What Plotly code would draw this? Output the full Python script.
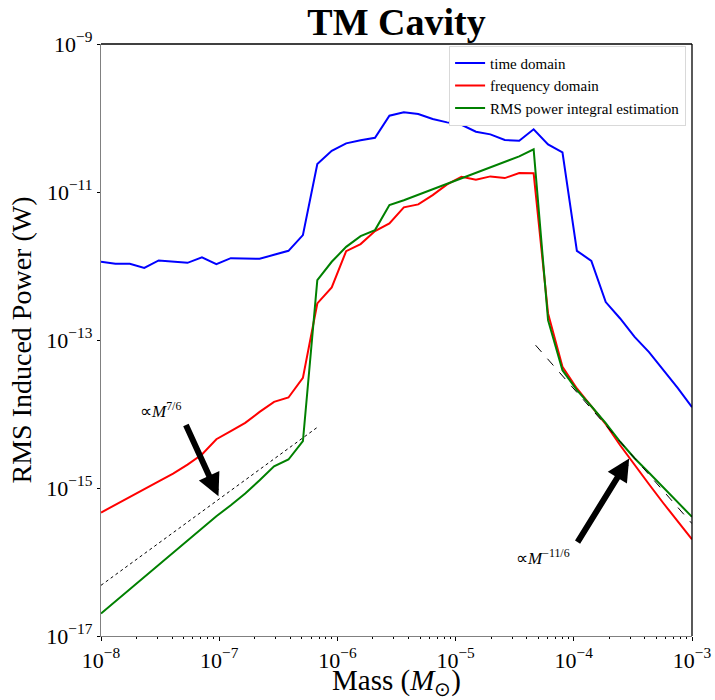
import math
import plotly.graph_objects as go

# ---- data ----
mass = [1.000e-08, 1.324e-08, 1.754e-08, 2.323e-08, 3.076e-08, 4.074e-08, 5.395e-08,
        7.145e-08, 9.462e-08, 1.253e-07, 1.660e-07, 2.198e-07, 2.911e-07, 3.855e-07,
        5.106e-07, 6.762e-07, 8.955e-07, 1.186e-06, 1.571e-06, 2.080e-06, 2.755e-06,
        3.648e-06, 4.832e-06, 6.399e-06, 8.475e-06, 1.122e-05, 1.486e-05, 1.969e-05,
        2.607e-05, 3.453e-05, 4.573e-05, 6.056e-05, 8.020e-05, 1.062e-04, 1.407e-04,
        1.863e-04, 2.467e-04, 3.268e-04, 4.328e-04, 5.731e-04, 7.590e-04, 1.000e-03]

log_time_domain = [-11.943, -11.971, -11.971, -12.025, -11.925, -11.938, -11.957, -11.884,
                   -11.975, -11.894, -11.898, -11.903, -11.849, -11.795, -11.583, -10.623,
                   -10.443, -10.343, -10.302, -10.267, -9.969, -9.923, -9.946, -10.014,
                   -10.059, -10.091, -10.186, -10.221, -10.298, -10.307, -10.153, -10.356,
                   -10.464, -11.795, -11.930, -12.488, -12.709, -12.958, -13.164, -13.408,
                   -13.651, -13.908]

log_freq_domain = [-15.332, -15.224, -15.121, -15.017, -14.909, -14.805, -14.683, -14.548,
                   -14.341, -14.233, -14.120, -13.972, -13.836, -13.777, -13.512, -12.506,
                   -12.290, -11.799, -11.704, -11.528, -11.424, -11.208, -11.167, -11.042,
                   -10.897, -10.794, -10.835, -10.789, -10.812, -10.744, -10.748, -12.641,
                   -13.363, -13.655, -13.904, -14.138, -14.422, -14.692, -14.949, -15.206,
                   -15.450, -15.693]

log_rms_integral = [-16.697, -16.533, -16.369, -16.204, -16.040, -15.875, -15.711, -15.547,
                    -15.382, -15.233, -15.075, -14.895, -14.706, -14.615, -14.368, -12.191,
                    -11.943, -11.741, -11.596, -11.515, -11.177, -11.111, -11.036, -10.963,
                    -10.889, -10.815, -10.741, -10.667, -10.593, -10.518, -10.424, -12.732,
                    -13.408, -13.678, -13.895, -14.124, -14.375, -14.598, -14.794, -14.990,
                    -15.193, -15.390]

time_domain = [10 ** v for v in log_time_domain]
freq_domain = [10 ** v for v in log_freq_domain]
rms_integral = [10 ** v for v in log_rms_integral]

# power-law guide lines (endpoints)
guide_low_mass = [1.0e-08, 6.9e-07]
guide_low_power = [4.84e-17, 6.76e-15]
guide_high_mass = [4.75e-05, 1.0e-03]
guide_high_power = [8.51e-14, 3.30e-16]

# annotation anchors: (text pos), (arrow tail), (arrow head)
ann_low = dict(text="∝<i>M</i><sup>7/6</sup>", text_xy=(3.17e-08, 1.12e-14),
               tail=(5.16e-08, 7.45e-15), head=(9.86e-08, 7.74e-16))
ann_high = dict(text="∝<i>M</i><sup>−11/6</sup>", text_xy=(5.45e-05, 1.17e-16),
                tail=(1.057e-04, 1.77e-16), head=(2.94e-04, 2.50e-15))

x_tick_vals = [1e-8, 1e-7, 1e-6, 1e-5, 1e-4, 1e-3]
x_tick_text = ["10<sup>−8</sup>", "10<sup>−7</sup>", "10<sup>−6</sup>",
               "10<sup>−5</sup>", "10<sup>−4</sup>", "10<sup>−3</sup>"]
y_tick_vals = [1e-17, 1e-15, 1e-13, 1e-11, 1e-9]
y_tick_text = ["10<sup>−17</sup>", "10<sup>−15</sup>", "10<sup>−13</sup>",
               "10<sup>−11</sup>", "10<sup>−9</sup>"]
x_minor_vals = [m * 10 ** e for e in range(-8, -3) for m in range(2, 10)]

FONT = "Liberation Serif"

fig = go.Figure()
fig.add_trace(go.Scatter(x=mass, y=time_domain, mode="lines", name="time domain",
                         line=dict(color="#0000ff", width=2)))
fig.add_trace(go.Scatter(x=mass, y=freq_domain, mode="lines", name="frequency domain",
                         line=dict(color="#ff0000", width=2)))
fig.add_trace(go.Scatter(x=mass, y=rms_integral, mode="lines",
                         name="RMS power integral estimation",
                         line=dict(color="#008000", width=2)))
fig.add_trace(go.Scatter(x=guide_low_mass, y=guide_low_power, mode="lines", showlegend=False,
                         line=dict(color="black", width=1, dash="dot")))
fig.add_trace(go.Scatter(x=guide_high_mass, y=guide_high_power, mode="lines", showlegend=False,
                         line=dict(color="black", width=1, dash="dash")))

for a in (ann_low, ann_high):
    fig.add_annotation(x=math.log10(a["head"][0]), y=math.log10(a["head"][1]),
                       ax=math.log10(a["tail"][0]), ay=math.log10(a["tail"][1]),
                       xref="x", yref="y", axref="x", ayref="y", text="",
                       showarrow=True, arrowhead=2, arrowwidth=6, arrowsize=0.75,
                       arrowcolor="black", standoff=0, startstandoff=0)
    fig.add_annotation(x=math.log10(a["text_xy"][0]), y=math.log10(a["text_xy"][1]),
                       xref="x", yref="y", text=a["text"], showarrow=False,
                       font=dict(family=FONT, size=17, color="black"))

# frame: black top/right edges
fig.add_shape(type="line", xref="paper", yref="paper", x0=0, x1=1, y0=1, y1=1,
              line=dict(color="black", width=1.3))
fig.add_shape(type="line", xref="paper", yref="paper", x0=1, x1=1, y0=0, y1=1,
              line=dict(color="black", width=1.3))

fig.update_layout(
    width=715, height=700,
    margin=dict(l=101, r=23, t=44, b=64, autoexpand=False),
    paper_bgcolor="white", plot_bgcolor="white",
    font=dict(family=FONT, color="black"),
    title=dict(text="<b>TM Cavity</b>", x=0.5, xref="paper", xanchor="center",
               y=1 - 22 / 700, yref="container", yanchor="middle",
               font=dict(family=FONT, size=38, color="black")),
    legend=dict(x=0.99, y=0.997, xanchor="right", yanchor="top",
                bgcolor="white", bordercolor="#d9d9d9", borderwidth=1,
                font=dict(family=FONT, size=15, color="black"),
                tracegroupgap=0, itemwidth=30),
    showlegend=True,
)

fig.update_xaxes(type="log", range=[-8, -3], showgrid=False, zeroline=False,
                 automargin=False,
                 showline=True, linecolor="#808080", linewidth=1.3, mirror=False,
                 tickmode="array", tickvals=x_tick_vals, ticktext=x_tick_text,
                 ticks="outside", ticklen=4, tickcolor="black",
                 tickfont=dict(family=FONT, size=22, color="black"),
                 minor=dict(tickmode="array", tickvals=x_minor_vals, ticks="outside",
                            ticklen=2, tickcolor="black", showgrid=False),
                 title=dict(text="Mass (<i>M</i><sub>⊙</sub>)", standoff=7,
                            font=dict(family=FONT, size=29, color="black")))
fig.update_yaxes(type="log", range=[-17, -9], showgrid=False, zeroline=False,
                 automargin=False,
                 showline=True, linecolor="#808080", linewidth=1.3, mirror=False,
                 tickmode="array", tickvals=y_tick_vals, ticktext=y_tick_text,
                 ticks="outside", ticklen=3, tickcolor="black",
                 tickfont=dict(family=FONT, size=22, color="black"),
                 title=dict(text="RMS Induced Power (W)", standoff=6,
                            font=dict(family=FONT, size=28, color="black")))

fig.write_html("out.html")
